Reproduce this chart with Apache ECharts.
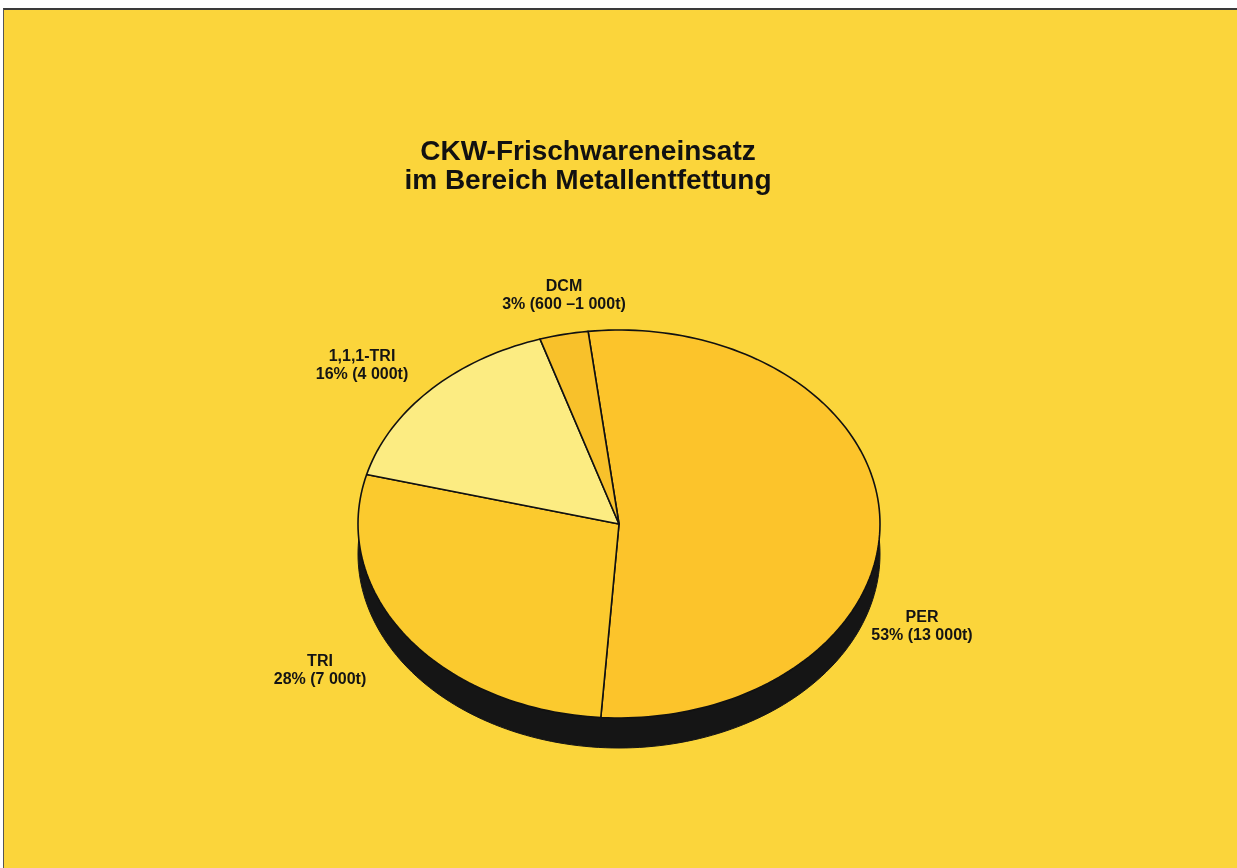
<!DOCTYPE html>
<html>
<head>
<meta charset="utf-8">
<script src="https://cdn.jsdelivr.net/npm/echarts@6/dist/echarts.min.js"></script>
<style>
  html, body { margin: 0; padding: 0; background: #fff; }
  #frame { position: absolute; left: 3px; top: 8px; width: 1234px; height: 860px;
           border-top: 2px solid #3a3a3a; border-left: 1px solid #555; background: #fbd53b; }
  #chart { width: 1234px; height: 858px; }
</style>
</head>
<body>
<div id="frame"><div id="chart"></div></div>
<script>
/* CKW-Frischwareneinsatz — tilted pie drawn with a custom series */
const NAMES = ["PER", "TRI", "1,1,1-TRI", "DCM"];
const SHARES = [53, 28, 16, 3];
const AMOUNTS = ["13 000t", "7 000t", "4 000t", "600 \u20131 000t"];

// style / layout
const SLICE_COLORS = ["#fcc42b", "#fbca2e", "#fcec82", "#f8c12b"];
const LABEL_AT = [[918, 617], [316, 661], [358, 356], [560, 286]]; // frame-local px
const PIE = { cx: 615, cy: 514, rx: 261, ry: 194, depth: 30, start: -6.8 };
const FONT = "Liberation Sans, Arial, Helvetica, sans-serif";

const total = SHARES.reduce((a, b) => a + b, 0);
const toRad = d => d * Math.PI / 180;
const pt = (a, dy) => [PIE.cx + PIE.rx * Math.sin(toRad(a)), PIE.cy + (dy || 0) - PIE.ry * Math.cos(toRad(a))];

function arcPoints(a0, a1, dy) {
  const pts = [];
  const n = Math.max(8, Math.ceil((a1 - a0) / 1.5));
  for (let i = 0; i <= n; i++) pts.push(pt(a0 + (a1 - a0) * i / n, dy));
  return pts;
}

const chart = echarts.init(document.getElementById("chart"));
chart.setOption({
  animation: false,
  backgroundColor: "transparent",
  title: {
    text: "CKW-Frischwareneinsatz\nim Bereich Metallentfettung",
    left: 579, top: 123, textAlign: "center",
    textStyle: { fontFamily: FONT, fontSize: 28, fontWeight: "bold", color: "#111", lineHeight: 29 }
  },
  series: [
    {
      // depth of the disc
      type: "custom", coordinateSystem: "none", data: [0], silent: true, z: 1,
      renderItem: () => ({
        type: "polygon",
        shape: { points: arcPoints(0, 360, PIE.depth) },
        style: { fill: "#151515", stroke: "#151515", lineWidth: 1 }
      })
    },
    {
      type: "custom", coordinateSystem: "none", silent: true, z: 2,
      data: SHARES,
      renderItem: (params, api) => {
        const i = params.dataIndex;
        const before = SHARES.slice(0, i).reduce((a, b) => a + b, 0);
        const a0 = PIE.start + 360 * before / total;
        const a1 = a0 + 360 * SHARES[i] / total;
        const pts = [[PIE.cx, PIE.cy]].concat(arcPoints(a0, a1));
        return {
          type: "group",
          children: [
            { type: "polygon", shape: { points: pts },
              style: { fill: SLICE_COLORS[i], stroke: "#111", lineWidth: 1.6, lineJoin: "round" } },
            { type: "text", x: LABEL_AT[i][0], y: LABEL_AT[i][1],
              style: {
                text: NAMES[i] + "\n" + SHARES[i] + "% (" + AMOUNTS[i] + ")",
                fill: "#141414", font: "bold 16px " + FONT, lineHeight: 18,
                align: "center", verticalAlign: "middle",
                textAlign: "center", textVerticalAlign: "middle"
              } }
          ]
        };
      }
    }
  ]
});
</script>
</body>
</html>
